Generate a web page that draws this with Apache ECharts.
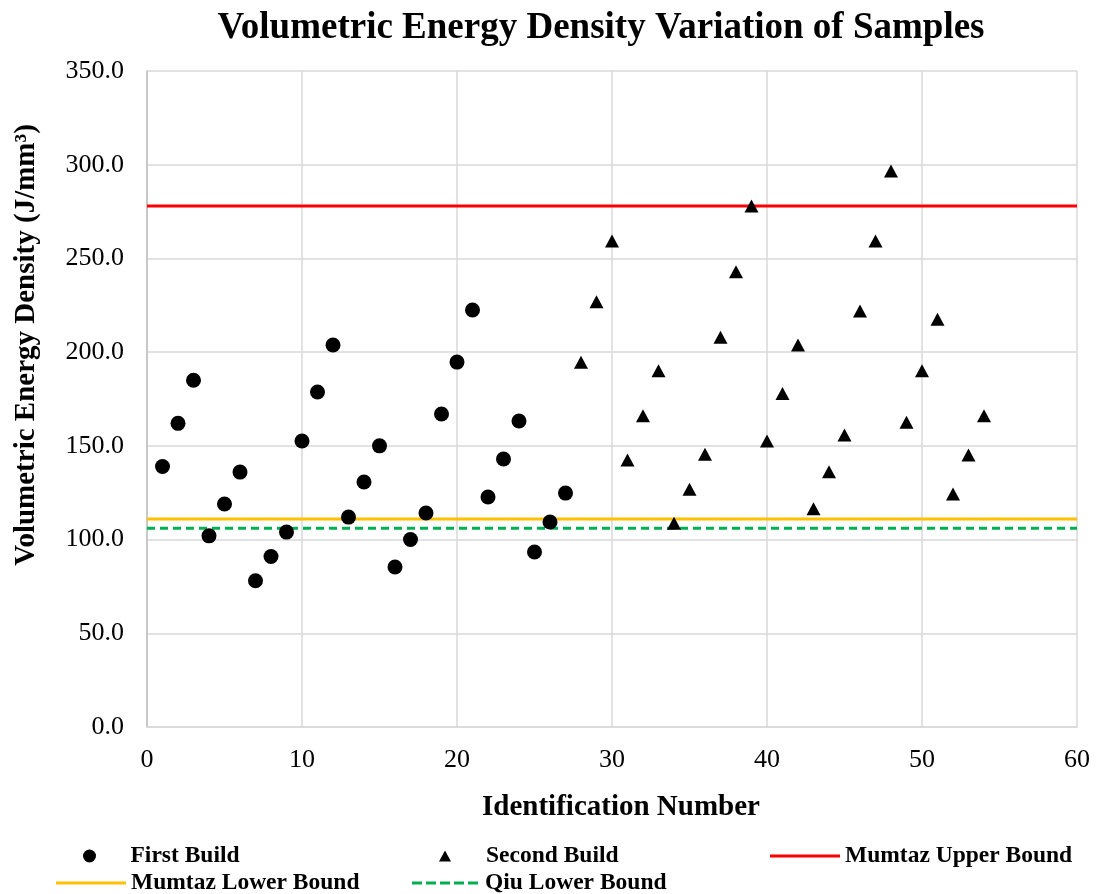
<!DOCTYPE html>
<html>
<head>
<meta charset="utf-8">
<script src="https://cdn.jsdelivr.net/npm/echarts@6/dist/echarts.min.js"></script>
<style>html,body{margin:0;padding:0;background:#fff}#c{width:1097px;height:894px}</style>
</head>
<body>
<div id="c"></div>
<script>
const firstIds = [1,2,3,4,5,6,7,8,9,10,11,12,13,14,15,16,17,18,19,20,21,22,23,24,25,26,27];
const firstValues = [139,162,185,102,119,136,78,91,104,152.6,178.7,203.8,112,130.7,150,85.4,100,114.2,167,194.7,222.5,122.7,143,163.3,93.4,109.4,124.8];
const secondIds = [28,29,30,31,32,33,34,35,36,37,38,39,40,41,42,43,44,45,46,47,48,49,50,51,52,53,54];
const secondValues = [194.6,226.9,259.3,142.5,166.1,190.1,108.7,126.8,145.5,207.9,242.9,278,152.6,178,203.8,116.5,136.2,155.8,222,259.3,296.6,162.6,190.1,217.5,124.3,145.1,166.1];
const mumtazUpper = 278;
const mumtazLower = 111;
const qiuLower = 106;
const xRange = [0, 60];
const yTicks = ['0.0','50.0','100.0','150.0','200.0','250.0','300.0','350.0'];

const font = 'Liberation Serif, Times New Roman, serif';
const chart = echarts.init(document.getElementById('c'));
const pair = (xs, ys) => xs.map((x, i) => [x, ys[i]]);
const hline = v => [[xRange[0], v], [xRange[1], v]];
const legendText = {fontFamily: font, fontWeight: 'bold', fontSize: 23.5, color: '#000'};
const dashIcon = 'path://M0,0H10V3H0Z M14,0H24V3H14Z M28,0H38V3H28Z M42,0H52V3H42Z M56,0H66V3H56Z';
const triIcon = 'path://M6,0L12,11L0,11Z';

chart.setOption({
  animation: false,
  backgroundColor: '#fff',
  grid: {left: 147, right: 20, top: 71, bottom: 167},
  xAxis: {
    type: 'value', min: 0, max: 60, interval: 10,
    axisLine: {show: true, lineStyle: {color: '#d9d9d9', width: 1.5}},
    axisTick: {show: false},
    splitLine: {show: true, lineStyle: {color: '#d9d9d9', width: 1.5}},
    axisLabel: {fontFamily: font, fontSize: 26, color: '#000', margin: 20}
  },
  yAxis: {
    type: 'value', min: 0, max: 350, interval: 50,
    axisLine: {show: true, lineStyle: {color: '#bfbfbf', width: 1.5}},
    axisTick: {show: false},
    splitLine: {show: true, lineStyle: {color: '#d9d9d9', width: 1.5}},
    axisLabel: {fontFamily: font, fontSize: 26, color: '#000', margin: 23,
      formatter: v => yTicks[Math.round(v / 50)]}
  },
  graphic: [
    {type: 'text', x: 601, y: 28, style: {text: 'Volumetric Energy Density Variation of Samples',
      fontFamily: font, fontWeight: 'bold', fontSize: 37, fill: '#000', align: 'center', verticalAlign: 'middle'}},
    {type: 'text', x: 27, y: 345, rotation: Math.PI / 2, style: {text: 'Volumetric Energy Density (J/mm³)',
      fontFamily: font, fontWeight: 'bold', fontSize: 29, fill: '#000', align: 'center', verticalAlign: 'middle'}},
    {type: 'text', x: 621, y: 808, style: {text: 'Identification Number',
      fontFamily: font, fontWeight: 'bold', fontSize: 29, fill: '#000', align: 'center', verticalAlign: 'middle'}}
  ],
  legend: [
    {data: [{name: 'First Build', icon: 'circle'}], left: 78, top: 839, itemWidth: 72, itemHeight: 13, textStyle: legendText},
    {data: [{name: 'Second Build', icon: triIcon}], left: 434, top: 839, itemWidth: 72, itemHeight: 11, textStyle: legendText},
    {data: [{name: 'Mumtaz Upper Bound', icon: 'rect'}], left: 765, top: 839, itemWidth: 70, itemHeight: 3, textStyle: legendText},
    {data: [{name: 'Mumtaz Lower Bound', icon: 'rect'}], left: 51, top: 866, itemWidth: 70, itemHeight: 3, textStyle: legendText},
    {data: [{name: 'Qiu Lower Bound', icon: dashIcon}], left: 407, top: 866, itemWidth: 70, itemHeight: 3, textStyle: legendText}
  ],
  series: [
    {name: 'Mumtaz Upper Bound', type: 'line', data: hline(mumtazUpper), symbol: 'none',
      lineStyle: {color: '#ff0000', width: 3}, itemStyle: {color: '#ff0000'}, z: 1},
    {name: 'Mumtaz Lower Bound', type: 'line', data: hline(mumtazLower), symbol: 'none',
      lineStyle: {color: '#ffc000', width: 3}, itemStyle: {color: '#ffc000'}, z: 1},
    {name: 'Qiu Lower Bound', type: 'line', data: hline(qiuLower), symbol: 'none',
      lineStyle: {color: '#00b050', width: 3, type: [8, 5]}, itemStyle: {color: '#00b050'}, z: 1},
    {name: 'First Build', type: 'scatter', data: pair(firstIds, firstValues), symbol: 'circle', symbolSize: 15,
      itemStyle: {color: '#000', opacity: 1}, z: 3},
    {name: 'Second Build', type: 'scatter', data: pair(secondIds, secondValues), symbol: 'triangle', symbolSize: [14, 13],
      itemStyle: {color: '#000', opacity: 1}, z: 3}
  ]
});
</script>
</body>
</html>
